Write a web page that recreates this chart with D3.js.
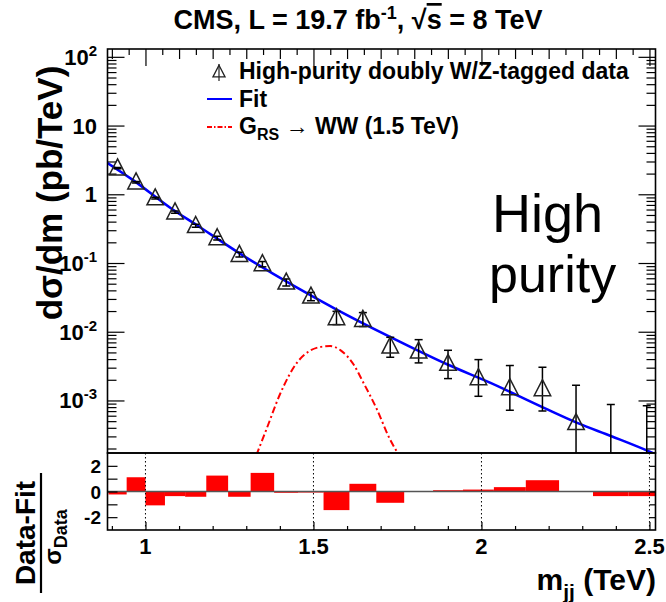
<!DOCTYPE html>
<html><head><meta charset="utf-8">
<script src="https://cdn.jsdelivr.net/npm/d3@7"></script>
<style>
body{margin:0;background:#fff}
text{font-family:"Liberation Sans",Arial,Helvetica,sans-serif}
</style>
</head><body>
<svg id="c" width="666" height="602"></svg>
<script>
// ---------- data ----------
const binEdges = [0.890,0.944,1.000,1.058,1.118,1.181,1.246,1.313,1.383,1.455,1.530,1.607,1.687,1.770,1.856,1.945,2.037,2.132,2.231,2.332,2.438,2.546];
const dataValues = [2.40,1.50,0.88,0.55,0.348,0.231,0.132,0.0967,0.0523,0.0327,0.0159,0.0150,0.00614,0.00519,0.00344,0.00213,0.00152,0.00147,0.000472,null,null];
const errLow  = [2.35,1.46,0.853,0.528,0.331,0.217,0.122,0.088,0.0463,0.0283,0.0127,0.0119,0.00425,0.00352,0.00208,0.00115,0.00072,0.00070,0.00001,null,null];
const errHigh = [2.45,1.54,0.907,0.572,0.365,0.245,0.143,0.105,0.0586,0.0373,0.0198,0.0190,0.0083,0.00767,0.00537,0.00393,0.00322,0.00304,0.00166,0.00087,0.00084];
const residuals = [-0.23,1.11,-1.08,-0.36,-0.41,1.24,-0.41,1.45,-0.10,-0.08,-1.45,0.60,-0.88,0,0.10,0.15,0.34,0.88,0,-0.36,-0.36];
const fitMass  = [0.887,0.962,1.081,1.151,1.271,1.569,1.728,1.899,2.027,2.186,2.285,2.387,2.504,2.518];
const fitValue = [2.85,1.62,0.60,0.360,0.1475,0.0210,0.0084,0.00333,0.00180,0.00078,0.000472,0.000302,0.000177,0.000165];
const sigMass  = [1.33,1.36,1.40,1.45,1.49,1.52,1.55,1.58,1.62,1.649,1.689,1.728,1.755];
const sigValue = [1.6e-4,3.8e-4,1.22e-3,3.5e-3,5.3e-3,6.0e-3,6.2e-3,5.4e-3,3.3e-3,1.8e-3,7.4e-4,2.7e-4,1.6e-4];
const xTickValues = [1,1.5,2,2.5];
const xTickLabels = ["1","1.5","2","2.5"];
const yTickExp = [2,1,0,-1,-2,-3];
const resTickValues = [2,0,-2];

// ---------- layout ----------
const svg = d3.select("#c");
const L = 107.5, R = 655.5, T = 49, M = 453, B = 530;
const x = d3.scaleLinear().domain([0.887, 2.518]).range([L, R]);
const y = d3.scaleLog().domain([1.72e-4, 130]).range([M, T]);
const yr = d3.scaleLinear().domain([-3, 3]).range([B, M]);

svg.append("defs").append("clipPath").attr("id","up")
  .append("rect").attr("x",L).attr("y",T).attr("width",R-L).attr("height",M-T);
svg.append("defs").append("clipPath").attr("id","lo")
  .append("rect").attr("x",L).attr("y",M).attr("width",R-L).attr("height",B-M);

// ---------- upper axes ticks ----------
const majors = yTickExp.map(e => Math.pow(10, e));
const minors = [];
for (let e=-4;e<=2;e++) for (let k=2;k<=9;k++){ const v=k*Math.pow(10,e); if(v>=1.72e-4 && v<=130) minors.push(v); }
const gy1 = svg.append("g").attr("transform",`translate(${L},0)`);
gy1.append("g").call(d3.axisRight(y).tickValues(majors).tickSize(17).tickFormat(""));
gy1.append("g").call(d3.axisRight(y).tickValues(minors).tickSize(9).tickFormat(""));
const gy2 = svg.append("g").attr("transform",`translate(${R},0)`);
gy2.append("g").call(d3.axisLeft(y).tickValues(majors).tickSize(17).tickFormat(""));
gy2.append("g").call(d3.axisLeft(y).tickValues(minors).tickSize(9).tickFormat(""));
const topMinor = d3.range(0.90, 2.5001, 0.05).map(v=>+v.toFixed(2)).filter(v=>xTickValues.indexOf(v)<0);
const gxt = svg.append("g").attr("transform",`translate(0,${T})`);
gxt.append("g").call(d3.axisBottom(x).tickValues(xTickValues).tickSize(17).tickFormat(""));
gxt.append("g").call(d3.axisBottom(x).tickValues(topMinor.filter(v=>Math.abs(v*10-Math.round(v*10))<1e-6)).tickSize(10).tickFormat(""));
gxt.append("g").call(d3.axisBottom(x).tickValues(topMinor.filter(v=>Math.abs(v*10-Math.round(v*10))>1e-6)).tickSize(6).tickFormat(""));
svg.selectAll(".domain").remove();
svg.selectAll(".tick line").attr("stroke","#000").attr("stroke-width",1.2);

// y tick labels
yTickExp.forEach(e=>{
  const t = svg.append("text").attr("x",97).attr("y",y(Math.pow(10,e))+8)
    .attr("text-anchor","end").attr("font-weight","bold").attr("font-size",22);
  if (e===0) t.text("1");
  else if (e===1) t.text("10");
  else { t.append("tspan").text("10"); t.append("tspan").attr("dy",-9).attr("font-size",15).text(String(e)); }
});

// ---------- upper plot content ----------
const up = svg.append("g").attr("clip-path","url(#up)");
up.append("path").datum(sigMass.map((m,i)=>[m,sigValue[i]]))
  .attr("d", d3.line().x(d=>x(d[0])).y(d=>y(d[1])).curve(d3.curveMonotoneX))
  .attr("fill","none").attr("stroke","#ff0000").attr("stroke-width",2)
  .attr("stroke-dasharray","7,3,2,3");
up.append("path").datum(fitMass.map((m,i)=>[m,fitValue[i]]))
  .attr("d", d3.line().x(d=>x(d[0])).y(d=>y(d[1])).curve(d3.curveMonotoneX))
  .attr("fill","none").attr("stroke","#0000ff").attr("stroke-width",2.6);
const centers = binEdges.slice(0,-1).map((e,i)=>(e+binEdges[i+1])/2);
centers.forEach((c,i)=>{
  const hi = errHigh[i], lo = errLow[i] === null ? 1e-5 : errLow[i];
  const g = up.append("g").attr("stroke","#000").attr("stroke-width",1.5);
  g.append("line").attr("x1",x(c)).attr("x2",x(c)).attr("y1",y(hi)).attr("y2",y(lo));
  g.append("line").attr("x1",x(c)-4).attr("x2",x(c)+4).attr("y1",y(hi)).attr("y2",y(hi));
  if (errLow[i] !== null) g.append("line").attr("x1",x(c)-4).attr("x2",x(c)+4).attr("y1",y(lo)).attr("y2",y(lo));
});
const tri = (cx,cy,s)=>`M${cx},${cy-s*0.62} L${cx+s*0.55},${cy+s*0.45} L${cx-s*0.55},${cy+s*0.45} Z`;
centers.forEach((c,i)=>{
  if (dataValues[i]===null) return;
  up.append("path").attr("d",tri(x(c),y(dataValues[i]),15)).attr("fill","none")
    .attr("stroke","#222").attr("stroke-width",1.5);
});

// ---------- lower panel ----------
const lo = svg.append("g").attr("clip-path","url(#lo)");
residuals.forEach((r,i)=>{
  if (r===0) return;
  lo.append("rect").attr("x",x(binEdges[i])).attr("width",x(binEdges[i+1])-x(binEdges[i]))
    .attr("y",yr(Math.max(r,0))).attr("height",Math.abs(yr(r)-yr(0))).attr("fill","#ff0000");
});
xTickValues.forEach(v=>{
  svg.append("line").attr("x1",x(v)).attr("x2",x(v)).attr("y1",M).attr("y2",B)
    .attr("stroke","#000").attr("stroke-width",1).attr("stroke-dasharray","1.5,2.5");
});
svg.append("line").attr("x1",L).attr("x2",R).attr("y1",yr(0)).attr("y2",yr(0))
  .attr("stroke","#555").attr("stroke-width",1.6);
svg.append("g").attr("transform",`translate(${L},0)`)
  .call(d3.axisRight(yr).tickValues([-2,-1,0,1,2]).tickSize(10).tickFormat(""));
svg.append("g").attr("transform",`translate(${R},0)`)
  .call(d3.axisLeft(yr).tickValues([-2,-1,0,1,2]).tickSize(6).tickFormat(""));
const lowMinor = d3.range(0.9, 2.5001, 0.1).map(v=>+v.toFixed(2)).filter(v=>xTickValues.indexOf(v)<0);
const gxb = svg.append("g").attr("transform",`translate(0,${B})`);
gxb.append("g").call(d3.axisTop(x).tickValues(xTickValues).tickSize(8).tickFormat(""));
gxb.append("g").call(d3.axisTop(x).tickValues(lowMinor).tickSize(4).tickFormat(""));
svg.selectAll(".domain").remove();
svg.selectAll(".tick line").attr("stroke","#000").attr("stroke-width",1.2);
resTickValues.forEach(v=>{
  svg.append("text").attr("x",101).attr("y",yr(v)+7).attr("text-anchor","end")
    .attr("font-weight","bold").attr("font-size",19).text(String(v));
});

// frames
svg.append("rect").attr("x",L).attr("y",T).attr("width",R-L).attr("height",M-T)
  .attr("fill","none").attr("stroke","#000").attr("stroke-width",1.6);
svg.append("rect").attr("x",L).attr("y",M).attr("width",R-L).attr("height",B-M)
  .attr("fill","none").attr("stroke","#000").attr("stroke-width",1.6);

// x tick labels
xTickValues.forEach((v,i)=>{
  svg.append("text").attr("x",x(v)).attr("y",554).attr("text-anchor","middle")
    .attr("font-weight","bold").attr("font-size",22).text(xTickLabels[i]);
});

// x title
const xt = svg.append("text").attr("x",656).attr("y",590).attr("text-anchor","end")
  .attr("font-weight","bold").attr("font-size",30);
xt.append("tspan").text("m");
xt.append("tspan").attr("dy",9).attr("font-size",21).text("jj");
xt.append("tspan").attr("dy",-9).text(" (TeV)");

// y title
svg.append("text").attr("transform","translate(62,193) rotate(-90)")
  .attr("text-anchor","middle").attr("font-weight","bold").attr("font-size",35)
  .text("dσ/dm (pb/TeV)");

// lower y title (fraction)
const fr = svg.append("g").attr("transform","translate(41,533) rotate(-90)");
fr.append("text").attr("x",0).attr("y",-6).attr("text-anchor","middle")
  .attr("font-weight","bold").attr("font-size",28).text("Data-Fit");
fr.append("line").attr("x1",-60).attr("x2",60).attr("y1",0).attr("y2",0).attr("stroke","#000").attr("stroke-width",2.2);
const sd = fr.append("text").attr("x",-4).attr("y",20).attr("text-anchor","middle")
  .attr("font-weight","bold").attr("font-size",24);
sd.append("tspan").text("σ");
sd.append("tspan").attr("dy",6).attr("font-size",18).text("Data");

// title
const tt = svg.append("text").attr("x",358).attr("y",29).attr("text-anchor","middle")
  .attr("font-weight","bold").attr("font-size",27);
tt.append("tspan").text("CMS, L = 19.7 fb");
tt.append("tspan").attr("dy",-10).attr("font-size",18).text("-1");
tt.append("tspan").attr("dy",10).text(", ");
tt.append("tspan").text("\u221A");
tt.append("tspan").attr("text-decoration","overline").text("s");
tt.append("tspan").text(" = 8 TeV");

// legend
const lg = svg.append("g");
lg.append("path").attr("d",tri(219,72,11)).attr("fill","none").attr("stroke","#222").attr("stroke-width",1.3);
lg.append("line").attr("x1",219).attr("x2",219).attr("y1",64).attr("y2",81).attr("stroke","#222").attr("stroke-width",1.2);
lg.append("text").attr("x",239).attr("y",79).attr("font-weight","bold").attr("font-size",23)
  .text("High-purity doubly W/Z-tagged data");
lg.append("line").attr("x1",207).attr("x2",232).attr("y1",99).attr("y2",99).attr("stroke","#0000ff").attr("stroke-width",2);
lg.append("text").attr("x",239).attr("y",107).attr("font-weight","bold").attr("font-size",23).text("Fit");
lg.append("line").attr("x1",207).attr("x2",232).attr("y1",127).attr("y2",127).attr("stroke","#ff0000")
  .attr("stroke-width",2).attr("stroke-dasharray","5,2,1.5,2");
const gl = lg.append("text").attr("x",239).attr("y",134).attr("font-weight","bold").attr("font-size",23);
gl.append("tspan").text("G");
gl.append("tspan").attr("dy",6).attr("font-size",16).text("RS");
gl.append("tspan").attr("dy",-6).text(" \u2192 WW (1.5 TeV)");

// annotation
svg.append("text").attr("x",492).attr("y",232).attr("font-size",54).text("High");
svg.append("text").attr("x",489).attr("y",292).attr("font-size",52).text("purity");
</script>
</body></html>
